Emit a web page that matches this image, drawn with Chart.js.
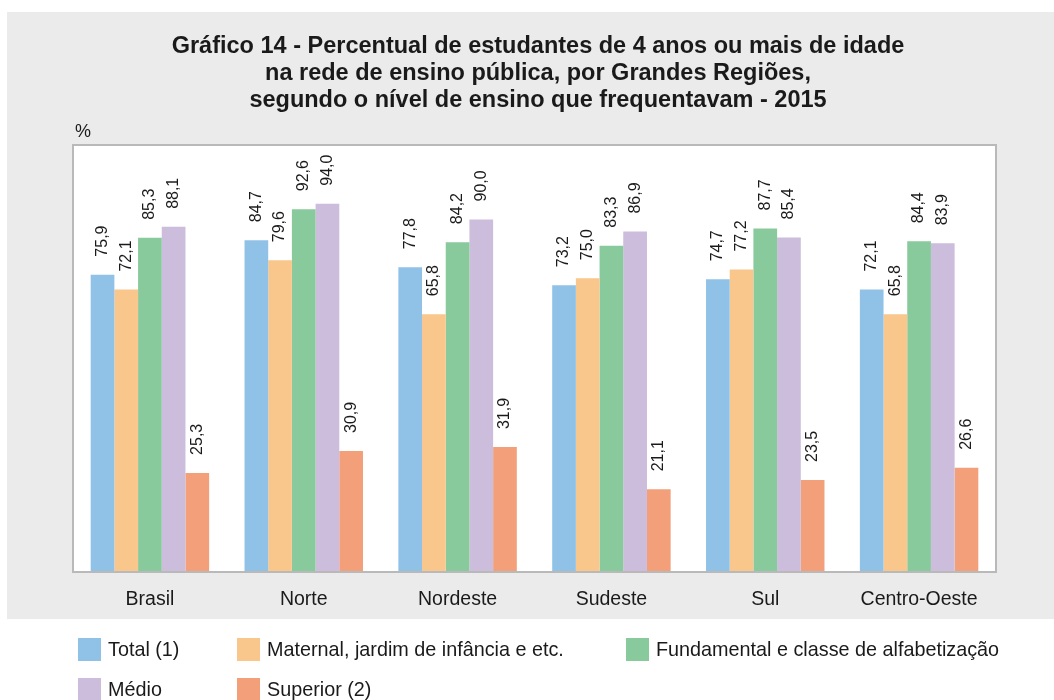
<!DOCTYPE html>
<html>
<head>
<meta charset="utf-8">
<script src="https://cdn.jsdelivr.net/npm/chart.js@4.4.0/dist/chart.umd.min.js"></script>
<style>
  html, body { margin: 0; padding: 0; background: #ffffff; }
  #wrap { position: relative; width: 1054px; height: 700px; overflow: hidden; }
  #legend { position: absolute; left: 0; top: 0; width: 1054px; height: 700px; pointer-events: none;
            font-family: "Liberation Sans", Arial, sans-serif; font-size: 19.8px; color: #1a1a1a; }
  .li { position: absolute; display: flex; align-items: center; height: 23px; white-space: nowrap; }
  .sw { width: 23px; height: 23px; margin-right: 7px; }
</style>
</head>
<body>
<div id="wrap">
  <canvas id="c" width="1054" height="700"></canvas>
  <div id="legend"></div>
</div>
<script>
const titleLines = [
  "Gráfico 14 - Percentual de estudantes de 4 anos ou mais de idade",
  "na rede de ensino pública, por Grandes Regiões,",
  "segundo o nível de ensino que frequentavam - 2015"
];
const unitLabel = "%";
const regions = ["Brasil", "Norte", "Nordeste", "Sudeste", "Sul", "Centro-Oeste"];
const seriesNames = ["Total (1)", "Maternal, jardim de infância e etc.", "Fundamental e classe de alfabetização", "Médio", "Superior (2)"];
const seriesColors = ["#90c2e8", "#f9c68b", "#89ca9c", "#cbbddb", "#f29f7a"];
const total       = [75.9, 84.7, 77.8, 73.2, 74.7, 72.1];
const maternal    = [72.1, 79.6, 65.8, 75.0, 77.2, 65.8];
const fundamental = [85.3, 92.6, 84.2, 83.3, 87.7, 84.4];
const medio       = [88.1, 94.0, 90.0, 86.9, 85.4, 83.9];
const superior    = [25.3, 30.9, 31.9, 21.1, 23.5, 26.6];
const seriesValues = [total, maternal, fundamental, medio, superior];

const FONT = '"Liberation Sans", Arial, sans-serif';

const bgPlugin = {
  id: 'bg',
  beforeDraw(chart) {
    const ctx = chart.ctx, a = chart.chartArea;
    ctx.save();
    ctx.fillStyle = '#ffffff';
    ctx.fillRect(0, 0, chart.width, chart.height);
    ctx.fillStyle = '#ebebeb';
    ctx.fillRect(7, 12, chart.width - 7, 607);
    ctx.fillStyle = '#ffffff';
    ctx.fillRect(a.left, a.top, a.right - a.left, a.bottom - a.top);
    ctx.restore();
  },
  afterDraw(chart) {
    const ctx = chart.ctx, a = chart.chartArea;
    ctx.save();
    ctx.strokeStyle = '#b9b9b9';
    ctx.lineWidth = 2;
    ctx.strokeRect(a.left, a.top, a.right - a.left, a.bottom - a.top);
    ctx.fillStyle = '#1a1a1a';
    ctx.font = 'bold 23.5px ' + FONT;
    ctx.textAlign = 'center';
    ctx.textBaseline = 'middle';
    titleLines.forEach((t, i) => ctx.fillText(t, 538, 47 + i * 27));
    ctx.font = '18px ' + FONT;
    ctx.textAlign = 'left';
    ctx.fillText(unitLabel, 75, 132);
    ctx.restore();
  }
};

const labelPlugin = {
  id: 'vlabels',
  afterDatasetsDraw(chart) {
    const ctx = chart.ctx;
    ctx.save();
    ctx.fillStyle = '#1a1a1a';
    ctx.font = '16px ' + FONT;
    ctx.textAlign = 'left';
    ctx.textBaseline = 'middle';
    chart.data.datasets.forEach((ds, i) => {
      const meta = chart.getDatasetMeta(i);
      meta.data.forEach((el, j) => {
        const v = ds.data[j];
        ctx.save();
        ctx.translate(el.x, el.y - 18);
        ctx.rotate(-Math.PI / 2);
        ctx.fillText(v.toFixed(1).replace('.', ','), 0, 0);
        ctx.restore();
      });
    });
    ctx.restore();
  }
};

new Chart(document.getElementById('c'), {
  type: 'bar',
  data: {
    labels: regions,
    datasets: seriesNames.map((n, i) => ({
      label: n,
      data: seriesValues[i],
      backgroundColor: seriesColors[i],
      borderWidth: 0,
      categoryPercentage: 0.77,
      barPercentage: 1.0
    }))
  },
  options: {
    responsive: false,
    animation: false,
    devicePixelRatio: 1,
    layout: { padding: { left: 73, right: 58, top: 145, bottom: 81 } },
    plugins: { legend: { display: false }, title: { display: false }, tooltip: { enabled: false } },
    scales: {
      x: {
        grid: { display: false, drawTicks: false },
        border: { display: false },
        ticks: { color: '#1a1a1a', font: { family: FONT, size: 19.5 }, padding: 16, maxRotation: 0 },
        afterFit(scale) { scale.height = 47; }
      },
      y: { display: false, min: 0, max: 109 }
    }
  },
  plugins: [bgPlugin, labelPlugin]
});

const legendPos = [[78, 638], [237, 638], [626, 638], [78, 678], [237, 678]];
const lg = document.getElementById('legend');
seriesNames.forEach((n, i) => {
  const d = document.createElement('div');
  d.className = 'li';
  d.style.left = legendPos[i][0] + 'px';
  d.style.top = legendPos[i][1] + 'px';
  const s = document.createElement('span');
  s.className = 'sw';
  s.style.background = seriesColors[i];
  const t = document.createElement('span');
  t.textContent = n;
  d.appendChild(s); d.appendChild(t);
  lg.appendChild(d);
});
</script>
</body>
</html>
